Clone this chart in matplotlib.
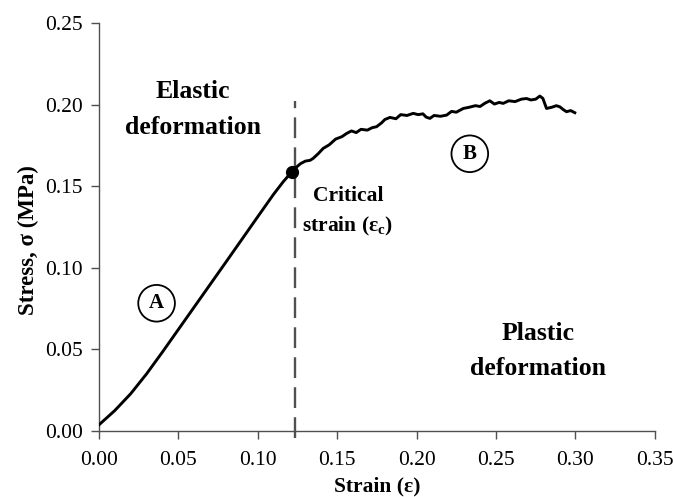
import matplotlib
matplotlib.use("Agg")
import matplotlib.pyplot as plt

# stress-strain curve
strain = [0.0, 0.010, 0.020, 0.030, 0.040, 0.050, 0.060, 0.070, 0.080,
          0.090, 0.100, 0.110, 0.116, 0.1215,
          0.1240, 0.1270, 0.1300, 0.1330, 0.1349, 0.1380, 0.1412, 0.1450,
          0.1490, 0.1530, 0.1560, 0.1590, 0.1620, 0.1650, 0.1690, 0.1720,
          0.1748, 0.1780, 0.1800, 0.1832, 0.1870, 0.1900, 0.1940, 0.1979,
          0.2010, 0.2040, 0.2060, 0.2084, 0.2110, 0.2150, 0.2189, 0.2220,
          0.2250, 0.2294, 0.2330, 0.2370, 0.2400, 0.2430, 0.2461, 0.2490,
          0.2520, 0.2545, 0.2580, 0.2620, 0.2660, 0.2692, 0.2720, 0.2750,
          0.2776, 0.2795, 0.2818, 0.2850, 0.2880, 0.2902, 0.2925, 0.2944,
          0.2970, 0.2996]
stress = [0.0037, 0.0125, 0.0228, 0.0350, 0.0484, 0.0622, 0.0760, 0.0898, 0.1036,
          0.1175, 0.1314, 0.1452, 0.1528, 0.1590,
          0.1615, 0.1640, 0.1655, 0.1660, 0.1672, 0.1700, 0.1733, 0.1755,
          0.1790, 0.1805, 0.1825, 0.1840, 0.1830, 0.1850, 0.1845, 0.1860,
          0.1866, 0.1890, 0.1910, 0.1923, 0.1915, 0.1940, 0.1935, 0.1948,
          0.1940, 0.1945, 0.1925, 0.1917, 0.1935, 0.1930, 0.1937, 0.1960,
          0.1955, 0.1978, 0.1985, 0.1995, 0.1990, 0.2010, 0.2025, 0.2005,
          0.2015, 0.2009, 0.2025, 0.2020, 0.2035, 0.2039, 0.2030, 0.2035,
          0.2054, 0.2040, 0.1978, 0.1985, 0.1995, 0.1988, 0.1970, 0.1958,
          0.1965, 0.1952]

critical_strain = 0.1232
critical_point = (0.1215, 0.159)

x_ticks = [0.0, 0.05, 0.10, 0.15, 0.20, 0.25, 0.30, 0.35]
y_ticks = [0.0, 0.05, 0.10, 0.15, 0.20, 0.25]

plt.rcParams["font.family"] = ["Liberation Serif", "DejaVu Serif"]

fig = plt.figure(figsize=(6.73, 4.97), dpi=100)
ax = fig.add_axes([0.147, 0.133, 0.826, 0.82])

ax.plot(strain, stress, color="black", lw=2.1, zorder=3)
ax.plot([critical_strain, critical_strain], [-0.0045, 0.2025], color="#505050",
        lw=1.7, dashes=(8.8, 3.9), clip_on=False, zorder=2)
ax.plot(*critical_point, "o", color="black", ms=8.5, zorder=4)

ax.set_xlim(0, 0.35)
ax.set_ylim(0, 0.25)
ax.set_xticks(x_ticks)
ax.set_yticks(y_ticks)
ax.set_xticklabels([f"{t:.2f}" for t in x_ticks])
ax.set_yticklabels([f"{t:.2f}" for t in y_ticks])

for side in ["top", "right"]:
    ax.spines[side].set_visible(False)
for side in ["left", "bottom"]:
    ax.spines[side].set_color("#505050")
    ax.spines[side].set_linewidth(1.0)
ax.tick_params(direction="out", length=5.5, width=1.0, color="#505050",
               labelsize=15.5)
ax.tick_params(axis="x", pad=9)
ax.tick_params(axis="y", pad=6)

ax.set_xlabel("Strain (ε)", fontsize=15.5, fontweight="bold")
ax.set_ylabel("Stress, σ (MPa)", fontsize=16.5, fontweight="bold")
ax.xaxis.set_label_coords(0.5, -0.112)
ax.yaxis.set_label_coords(-0.107, 0.468)

ax.text(0.059, 0.197, "Elastic\ndeformation", fontsize=18.5, fontweight="bold",
        ha="center", va="center", linespacing=1.7)
ax.text(0.2766, 0.049, "Plastic\ndeformation", fontsize=18.5, fontweight="bold",
        ha="center", va="center", linespacing=1.65)
ax.text(0.1567, 0.1345, "Critical\nstrain (ε$_\\mathregular{c}$)", fontsize=15.5,
        fontweight="bold", ha="center", va="center", linespacing=1.55)

circle = dict(boxstyle="circle,pad=0.4", fc="white", ec="black", lw=1.3)
ax.text(0.0363, 0.0783, "A", fontsize=15, fontweight="bold", ha="center",
        va="center", bbox=circle)
ax.text(0.2335, 0.170, "B", fontsize=15, fontweight="bold", ha="center",
        va="center", bbox=circle)

fig.savefig("out.png", dpi=100)
